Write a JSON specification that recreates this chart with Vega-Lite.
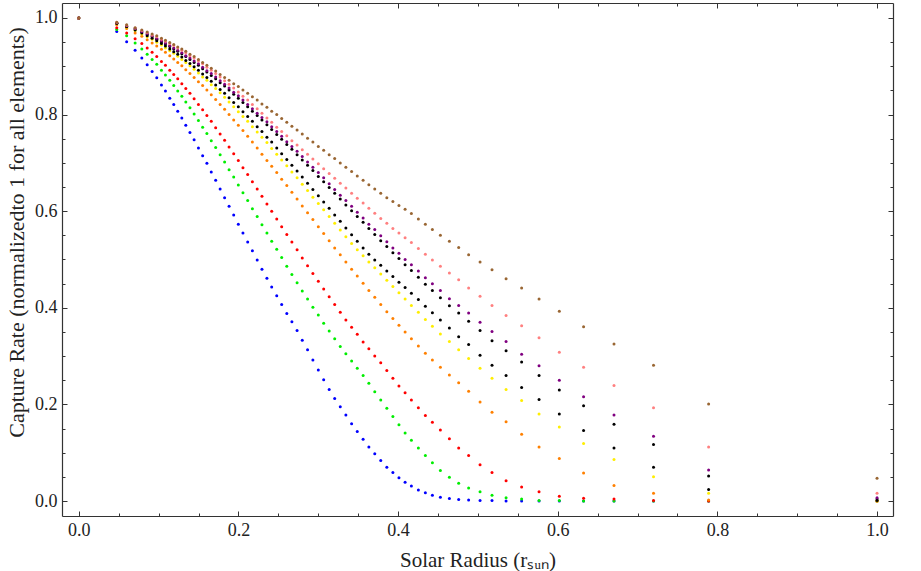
{
"$schema":"https://vega.github.io/schema/vega-lite/v6.json",
"width":831,"height":513,"autosize":"none",
"padding":{"left":62,"top":3,"right":28,"bottom":55},
"background":"white",
"config":{"view":{"stroke":null},"font":"Liberation Serif"},
"datasets":{
"pts":[
{"r":0,"s":"Blue","v":1},{"r":0.0476,"s":"Blue","v":0.972},{"r":0.06,"s":"Blue","v":0.951},{"r":0.0706,"s":"Blue","v":0.933},{"r":0.079,"s":"Blue","v":0.917},{"r":0.0857,"s":"Blue","v":0.903},{"r":0.0919,"s":"Blue","v":0.889},{"r":0.0977,"s":"Blue","v":0.876},{"r":0.1036,"s":"Blue","v":0.861},{"r":0.1086,"s":"Blue","v":0.849},{"r":0.114,"s":"Blue","v":0.834},{"r":0.119,"s":"Blue","v":0.821},{"r":0.124,"s":"Blue","v":0.807},{"r":0.1291,"s":"Blue","v":0.793},{"r":0.1341,"s":"Blue","v":0.778},{"r":0.1393,"s":"Blue","v":0.763},{"r":0.1445,"s":"Blue","v":0.748},{"r":0.1499,"s":"Blue","v":0.731},{"r":0.1552,"s":"Blue","v":0.715},{"r":0.1605,"s":"Blue","v":0.699},{"r":0.166,"s":"Blue","v":0.681},{"r":0.1715,"s":"Blue","v":0.664},{"r":0.1771,"s":"Blue","v":0.646},{"r":0.1827,"s":"Blue","v":0.628},{"r":0.1883,"s":"Blue","v":0.61},{"r":0.1941,"s":"Blue","v":0.592},{"r":0.1999,"s":"Blue","v":0.573},{"r":0.2057,"s":"Blue","v":0.555},{"r":0.2116,"s":"Blue","v":0.536},{"r":0.2175,"s":"Blue","v":0.518},{"r":0.2235,"s":"Blue","v":0.499},{"r":0.2295,"s":"Blue","v":0.48},{"r":0.2357,"s":"Blue","v":0.461},{"r":0.2417,"s":"Blue","v":0.443},{"r":0.248,"s":"Blue","v":0.425},{"r":0.2542,"s":"Blue","v":0.407},{"r":0.2606,"s":"Blue","v":0.388},{"r":0.267,"s":"Blue","v":0.371},{"r":0.2735,"s":"Blue","v":0.353},{"r":0.28,"s":"Blue","v":0.333},{"r":0.2866,"s":"Blue","v":0.313},{"r":0.2933,"s":"Blue","v":0.292},{"r":0.3001,"s":"Blue","v":0.271},{"r":0.3068,"s":"Blue","v":0.251},{"r":0.3137,"s":"Blue","v":0.231},{"r":0.3206,"s":"Blue","v":0.212},{"r":0.3276,"s":"Blue","v":0.195},{"r":0.3346,"s":"Blue","v":0.178},{"r":0.3418,"s":"Blue","v":0.16},{"r":0.3489,"s":"Blue","v":0.144},{"r":0.3562,"s":"Blue","v":0.128},{"r":0.3634,"s":"Blue","v":0.112},{"r":0.3708,"s":"Blue","v":0.098},{"r":0.3783,"s":"Blue","v":0.084},{"r":0.3859,"s":"Blue","v":0.07},{"r":0.3935,"s":"Blue","v":0.059},{"r":0.4011,"s":"Blue","v":0.048},{"r":0.4088,"s":"Blue","v":0.039},{"r":0.4167,"s":"Blue","v":0.031},{"r":0.4254,"s":"Blue","v":0.023},{"r":0.4342,"s":"Blue","v":0.017},{"r":0.443,"s":"Blue","v":0.012},{"r":0.453,"s":"Blue","v":0.008},{"r":0.4643,"s":"Blue","v":0.005},{"r":0.4759,"s":"Blue","v":0.003},{"r":0.4884,"s":"Blue","v":0.002},{"r":0.5027,"s":"Blue","v":0.001},{"r":0.5177,"s":"Blue","v":0.001},{"r":0.5353,"s":"Blue","v":0},{"r":0.5548,"s":"Blue","v":0},{"r":0.5766,"s":"Blue","v":0},{"r":0.602,"s":"Blue","v":0},{"r":0.6324,"s":"Blue","v":0},{"r":0.6705,"s":"Blue","v":0},{"r":0.72,"s":"Blue","v":0},{"r":0.789,"s":"Blue","v":0},{"r":1,"s":"Blue","v":0},
{"r":0,"s":"Green","v":1},{"r":0.0476,"s":"Green","v":0.976},{"r":0.06,"s":"Green","v":0.963},{"r":0.0706,"s":"Green","v":0.948},{"r":0.079,"s":"Green","v":0.936},{"r":0.0857,"s":"Green","v":0.925},{"r":0.0919,"s":"Green","v":0.914},{"r":0.0977,"s":"Green","v":0.904},{"r":0.1036,"s":"Green","v":0.892},{"r":0.1086,"s":"Green","v":0.882},{"r":0.114,"s":"Green","v":0.871},{"r":0.119,"s":"Green","v":0.86},{"r":0.124,"s":"Green","v":0.849},{"r":0.1291,"s":"Green","v":0.838},{"r":0.1341,"s":"Green","v":0.826},{"r":0.1393,"s":"Green","v":0.814},{"r":0.1445,"s":"Green","v":0.801},{"r":0.1499,"s":"Green","v":0.788},{"r":0.1552,"s":"Green","v":0.774},{"r":0.1605,"s":"Green","v":0.761},{"r":0.166,"s":"Green","v":0.746},{"r":0.1715,"s":"Green","v":0.732},{"r":0.1771,"s":"Green","v":0.717},{"r":0.1827,"s":"Green","v":0.702},{"r":0.1883,"s":"Green","v":0.686},{"r":0.1941,"s":"Green","v":0.671},{"r":0.1999,"s":"Green","v":0.654},{"r":0.2057,"s":"Green","v":0.638},{"r":0.2116,"s":"Green","v":0.622},{"r":0.2175,"s":"Green","v":0.605},{"r":0.2235,"s":"Green","v":0.589},{"r":0.2295,"s":"Green","v":0.572},{"r":0.2357,"s":"Green","v":0.555},{"r":0.2417,"s":"Green","v":0.538},{"r":0.248,"s":"Green","v":0.521},{"r":0.2542,"s":"Green","v":0.504},{"r":0.2606,"s":"Green","v":0.486},{"r":0.267,"s":"Green","v":0.469},{"r":0.2735,"s":"Green","v":0.452},{"r":0.28,"s":"Green","v":0.435},{"r":0.2866,"s":"Green","v":0.418},{"r":0.2933,"s":"Green","v":0.401},{"r":0.3001,"s":"Green","v":0.385},{"r":0.3068,"s":"Green","v":0.368},{"r":0.3137,"s":"Green","v":0.352},{"r":0.3206,"s":"Green","v":0.336},{"r":0.3276,"s":"Green","v":0.32},{"r":0.3346,"s":"Green","v":0.305},{"r":0.3418,"s":"Green","v":0.29},{"r":0.3489,"s":"Green","v":0.275},{"r":0.3562,"s":"Green","v":0.26},{"r":0.3634,"s":"Green","v":0.244},{"r":0.3708,"s":"Green","v":0.226},{"r":0.3783,"s":"Green","v":0.209},{"r":0.3859,"s":"Green","v":0.192},{"r":0.3935,"s":"Green","v":0.175},{"r":0.4011,"s":"Green","v":0.158},{"r":0.4088,"s":"Green","v":0.141},{"r":0.4167,"s":"Green","v":0.126},{"r":0.4254,"s":"Green","v":0.11},{"r":0.4342,"s":"Green","v":0.094},{"r":0.443,"s":"Green","v":0.079},{"r":0.453,"s":"Green","v":0.063},{"r":0.4643,"s":"Green","v":0.049},{"r":0.4759,"s":"Green","v":0.037},{"r":0.4884,"s":"Green","v":0.027},{"r":0.5027,"s":"Green","v":0.019},{"r":0.5177,"s":"Green","v":0.012},{"r":0.5353,"s":"Green","v":0.007},{"r":0.5548,"s":"Green","v":0.004},{"r":0.5766,"s":"Green","v":0.001},{"r":0.602,"s":"Green","v":0.001},{"r":0.6324,"s":"Green","v":0},{"r":0.6705,"s":"Green","v":0},{"r":0.72,"s":"Green","v":0},{"r":0.789,"s":"Green","v":0},{"r":1,"s":"Green","v":0},
{"r":0,"s":"Red","v":1},{"r":0.0476,"s":"Red","v":0.98},{"r":0.06,"s":"Red","v":0.969},{"r":0.0706,"s":"Red","v":0.957},{"r":0.079,"s":"Red","v":0.947},{"r":0.0857,"s":"Red","v":0.938},{"r":0.0919,"s":"Red","v":0.929},{"r":0.0977,"s":"Red","v":0.92},{"r":0.1036,"s":"Red","v":0.91},{"r":0.1086,"s":"Red","v":0.902},{"r":0.114,"s":"Red","v":0.892},{"r":0.119,"s":"Red","v":0.883},{"r":0.124,"s":"Red","v":0.874},{"r":0.1291,"s":"Red","v":0.864},{"r":0.1341,"s":"Red","v":0.854},{"r":0.1393,"s":"Red","v":0.844},{"r":0.1445,"s":"Red","v":0.833},{"r":0.1499,"s":"Red","v":0.821},{"r":0.1552,"s":"Red","v":0.81},{"r":0.1605,"s":"Red","v":0.798},{"r":0.166,"s":"Red","v":0.786},{"r":0.1715,"s":"Red","v":0.773},{"r":0.1771,"s":"Red","v":0.76},{"r":0.1827,"s":"Red","v":0.747},{"r":0.1883,"s":"Red","v":0.733},{"r":0.1941,"s":"Red","v":0.719},{"r":0.1999,"s":"Red","v":0.705},{"r":0.2057,"s":"Red","v":0.69},{"r":0.2116,"s":"Red","v":0.676},{"r":0.2175,"s":"Red","v":0.661},{"r":0.2235,"s":"Red","v":0.646},{"r":0.2295,"s":"Red","v":0.631},{"r":0.2357,"s":"Red","v":0.615},{"r":0.2417,"s":"Red","v":0.6},{"r":0.248,"s":"Red","v":0.584},{"r":0.2542,"s":"Red","v":0.568},{"r":0.2606,"s":"Red","v":0.552},{"r":0.267,"s":"Red","v":0.536},{"r":0.2735,"s":"Red","v":0.52},{"r":0.28,"s":"Red","v":0.503},{"r":0.2866,"s":"Red","v":0.487},{"r":0.2933,"s":"Red","v":0.471},{"r":0.3001,"s":"Red","v":0.455},{"r":0.3068,"s":"Red","v":0.439},{"r":0.3137,"s":"Red","v":0.423},{"r":0.3206,"s":"Red","v":0.407},{"r":0.3276,"s":"Red","v":0.391},{"r":0.3346,"s":"Red","v":0.375},{"r":0.3418,"s":"Red","v":0.36},{"r":0.3489,"s":"Red","v":0.345},{"r":0.3562,"s":"Red","v":0.329},{"r":0.3634,"s":"Red","v":0.315},{"r":0.3708,"s":"Red","v":0.3},{"r":0.3783,"s":"Red","v":0.286},{"r":0.3859,"s":"Red","v":0.27},{"r":0.3935,"s":"Red","v":0.254},{"r":0.4011,"s":"Red","v":0.238},{"r":0.4088,"s":"Red","v":0.224},{"r":0.4167,"s":"Red","v":0.209},{"r":0.4254,"s":"Red","v":0.193},{"r":0.4342,"s":"Red","v":0.177},{"r":0.443,"s":"Red","v":0.163},{"r":0.453,"s":"Red","v":0.147},{"r":0.4643,"s":"Red","v":0.129},{"r":0.4759,"s":"Red","v":0.11},{"r":0.4884,"s":"Red","v":0.094},{"r":0.5027,"s":"Red","v":0.075},{"r":0.5177,"s":"Red","v":0.059},{"r":0.5353,"s":"Red","v":0.042},{"r":0.5548,"s":"Red","v":0.029},{"r":0.5766,"s":"Red","v":0.019},{"r":0.602,"s":"Red","v":0.01},{"r":0.6324,"s":"Red","v":0.006},{"r":0.6705,"s":"Red","v":0.004},{"r":0.72,"s":"Red","v":0.001},{"r":0.789,"s":"Red","v":0},{"r":1,"s":"Red","v":0},
{"r":0,"s":"Orange","v":1},{"r":0.0476,"s":"Orange","v":0.986},{"r":0.06,"s":"Orange","v":0.978},{"r":0.0706,"s":"Orange","v":0.969},{"r":0.079,"s":"Orange","v":0.962},{"r":0.0857,"s":"Orange","v":0.955},{"r":0.0919,"s":"Orange","v":0.948},{"r":0.0977,"s":"Orange","v":0.942},{"r":0.1036,"s":"Orange","v":0.935},{"r":0.1086,"s":"Orange","v":0.929},{"r":0.114,"s":"Orange","v":0.922},{"r":0.119,"s":"Orange","v":0.915},{"r":0.124,"s":"Orange","v":0.908},{"r":0.1291,"s":"Orange","v":0.901},{"r":0.1341,"s":"Orange","v":0.893},{"r":0.1393,"s":"Orange","v":0.885},{"r":0.1445,"s":"Orange","v":0.877},{"r":0.1499,"s":"Orange","v":0.868},{"r":0.1552,"s":"Orange","v":0.86},{"r":0.1605,"s":"Orange","v":0.851},{"r":0.166,"s":"Orange","v":0.841},{"r":0.1715,"s":"Orange","v":0.831},{"r":0.1771,"s":"Orange","v":0.821},{"r":0.1827,"s":"Orange","v":0.811},{"r":0.1883,"s":"Orange","v":0.8},{"r":0.1941,"s":"Orange","v":0.789},{"r":0.1999,"s":"Orange","v":0.778},{"r":0.2057,"s":"Orange","v":0.767},{"r":0.2116,"s":"Orange","v":0.755},{"r":0.2175,"s":"Orange","v":0.743},{"r":0.2235,"s":"Orange","v":0.731},{"r":0.2295,"s":"Orange","v":0.718},{"r":0.2357,"s":"Orange","v":0.705},{"r":0.2417,"s":"Orange","v":0.693},{"r":0.248,"s":"Orange","v":0.68},{"r":0.2542,"s":"Orange","v":0.666},{"r":0.2606,"s":"Orange","v":0.653},{"r":0.267,"s":"Orange","v":0.639},{"r":0.2735,"s":"Orange","v":0.625},{"r":0.28,"s":"Orange","v":0.611},{"r":0.2866,"s":"Orange","v":0.597},{"r":0.2933,"s":"Orange","v":0.583},{"r":0.3001,"s":"Orange","v":0.568},{"r":0.3068,"s":"Orange","v":0.554},{"r":0.3137,"s":"Orange","v":0.539},{"r":0.3206,"s":"Orange","v":0.524},{"r":0.3276,"s":"Orange","v":0.51},{"r":0.3346,"s":"Orange","v":0.495},{"r":0.3418,"s":"Orange","v":0.48},{"r":0.3489,"s":"Orange","v":0.466},{"r":0.3562,"s":"Orange","v":0.451},{"r":0.3634,"s":"Orange","v":0.436},{"r":0.3708,"s":"Orange","v":0.422},{"r":0.3783,"s":"Orange","v":0.407},{"r":0.3859,"s":"Orange","v":0.392},{"r":0.3935,"s":"Orange","v":0.378},{"r":0.4011,"s":"Orange","v":0.364},{"r":0.4088,"s":"Orange","v":0.35},{"r":0.4167,"s":"Orange","v":0.336},{"r":0.4254,"s":"Orange","v":0.321},{"r":0.4342,"s":"Orange","v":0.306},{"r":0.443,"s":"Orange","v":0.292},{"r":0.453,"s":"Orange","v":0.277},{"r":0.4643,"s":"Orange","v":0.261},{"r":0.4759,"s":"Orange","v":0.245},{"r":0.4884,"s":"Orange","v":0.227},{"r":0.5027,"s":"Orange","v":0.205},{"r":0.5177,"s":"Orange","v":0.184},{"r":0.5353,"s":"Orange","v":0.164},{"r":0.5548,"s":"Orange","v":0.138},{"r":0.5766,"s":"Orange","v":0.112},{"r":0.602,"s":"Orange","v":0.088},{"r":0.6324,"s":"Orange","v":0.058},{"r":0.6705,"s":"Orange","v":0.032},{"r":0.72,"s":"Orange","v":0.016},{"r":0.789,"s":"Orange","v":0.002},{"r":1,"s":"Orange","v":0},
{"r":0,"s":"Yellow","v":1},{"r":0.0476,"s":"Yellow","v":0.988},{"r":0.06,"s":"Yellow","v":0.981},{"r":0.0706,"s":"Yellow","v":0.974},{"r":0.079,"s":"Yellow","v":0.967},{"r":0.0857,"s":"Yellow","v":0.961},{"r":0.0919,"s":"Yellow","v":0.956},{"r":0.0977,"s":"Yellow","v":0.95},{"r":0.1036,"s":"Yellow","v":0.944},{"r":0.1086,"s":"Yellow","v":0.938},{"r":0.114,"s":"Yellow","v":0.932},{"r":0.119,"s":"Yellow","v":0.927},{"r":0.124,"s":"Yellow","v":0.921},{"r":0.1291,"s":"Yellow","v":0.914},{"r":0.1341,"s":"Yellow","v":0.908},{"r":0.1393,"s":"Yellow","v":0.901},{"r":0.1445,"s":"Yellow","v":0.894},{"r":0.1499,"s":"Yellow","v":0.886},{"r":0.1552,"s":"Yellow","v":0.878},{"r":0.1605,"s":"Yellow","v":0.871},{"r":0.166,"s":"Yellow","v":0.862},{"r":0.1715,"s":"Yellow","v":0.854},{"r":0.1771,"s":"Yellow","v":0.845},{"r":0.1827,"s":"Yellow","v":0.836},{"r":0.1883,"s":"Yellow","v":0.826},{"r":0.1941,"s":"Yellow","v":0.816},{"r":0.1999,"s":"Yellow","v":0.806},{"r":0.2057,"s":"Yellow","v":0.796},{"r":0.2116,"s":"Yellow","v":0.786},{"r":0.2175,"s":"Yellow","v":0.775},{"r":0.2235,"s":"Yellow","v":0.764},{"r":0.2295,"s":"Yellow","v":0.753},{"r":0.2357,"s":"Yellow","v":0.742},{"r":0.2417,"s":"Yellow","v":0.73},{"r":0.248,"s":"Yellow","v":0.718},{"r":0.2542,"s":"Yellow","v":0.706},{"r":0.2606,"s":"Yellow","v":0.694},{"r":0.267,"s":"Yellow","v":0.681},{"r":0.2735,"s":"Yellow","v":0.669},{"r":0.28,"s":"Yellow","v":0.656},{"r":0.2866,"s":"Yellow","v":0.643},{"r":0.2933,"s":"Yellow","v":0.629},{"r":0.3001,"s":"Yellow","v":0.616},{"r":0.3068,"s":"Yellow","v":0.603},{"r":0.3137,"s":"Yellow","v":0.589},{"r":0.3206,"s":"Yellow","v":0.575},{"r":0.3276,"s":"Yellow","v":0.561},{"r":0.3346,"s":"Yellow","v":0.547},{"r":0.3418,"s":"Yellow","v":0.533},{"r":0.3489,"s":"Yellow","v":0.52},{"r":0.3562,"s":"Yellow","v":0.508},{"r":0.3634,"s":"Yellow","v":0.495},{"r":0.3708,"s":"Yellow","v":0.483},{"r":0.3783,"s":"Yellow","v":0.47},{"r":0.3859,"s":"Yellow","v":0.457},{"r":0.3935,"s":"Yellow","v":0.444},{"r":0.4011,"s":"Yellow","v":0.431},{"r":0.4088,"s":"Yellow","v":0.418},{"r":0.4167,"s":"Yellow","v":0.405},{"r":0.4254,"s":"Yellow","v":0.391},{"r":0.4342,"s":"Yellow","v":0.376},{"r":0.443,"s":"Yellow","v":0.362},{"r":0.453,"s":"Yellow","v":0.346},{"r":0.4643,"s":"Yellow","v":0.33},{"r":0.4759,"s":"Yellow","v":0.313},{"r":0.4884,"s":"Yellow","v":0.295},{"r":0.5027,"s":"Yellow","v":0.275},{"r":0.5177,"s":"Yellow","v":0.254},{"r":0.5353,"s":"Yellow","v":0.231},{"r":0.5548,"s":"Yellow","v":0.208},{"r":0.5766,"s":"Yellow","v":0.18},{"r":0.602,"s":"Yellow","v":0.153},{"r":0.6324,"s":"Yellow","v":0.119},{"r":0.6705,"s":"Yellow","v":0.086},{"r":0.72,"s":"Yellow","v":0.05},{"r":0.789,"s":"Yellow","v":0.016},{"r":1,"s":"Yellow","v":0},
{"r":0,"s":"Black B","v":1},{"r":0.0476,"s":"Black B","v":0.989},{"r":0.06,"s":"Black B","v":0.982},{"r":0.0706,"s":"Black B","v":0.975},{"r":0.079,"s":"Black B","v":0.969},{"r":0.0857,"s":"Black B","v":0.963},{"r":0.0919,"s":"Black B","v":0.958},{"r":0.0977,"s":"Black B","v":0.953},{"r":0.1036,"s":"Black B","v":0.947},{"r":0.1086,"s":"Black B","v":0.942},{"r":0.114,"s":"Black B","v":0.936},{"r":0.119,"s":"Black B","v":0.93},{"r":0.124,"s":"Black B","v":0.925},{"r":0.1291,"s":"Black B","v":0.919},{"r":0.1341,"s":"Black B","v":0.912},{"r":0.1393,"s":"Black B","v":0.906},{"r":0.1445,"s":"Black B","v":0.899},{"r":0.1499,"s":"Black B","v":0.892},{"r":0.1552,"s":"Black B","v":0.884},{"r":0.1605,"s":"Black B","v":0.877},{"r":0.166,"s":"Black B","v":0.869},{"r":0.1715,"s":"Black B","v":0.861},{"r":0.1771,"s":"Black B","v":0.852},{"r":0.1827,"s":"Black B","v":0.844},{"r":0.1883,"s":"Black B","v":0.835},{"r":0.1941,"s":"Black B","v":0.825},{"r":0.1999,"s":"Black B","v":0.816},{"r":0.2057,"s":"Black B","v":0.806},{"r":0.2116,"s":"Black B","v":0.796},{"r":0.2175,"s":"Black B","v":0.786},{"r":0.2235,"s":"Black B","v":0.775},{"r":0.2295,"s":"Black B","v":0.765},{"r":0.2357,"s":"Black B","v":0.753},{"r":0.2417,"s":"Black B","v":0.743},{"r":0.248,"s":"Black B","v":0.731},{"r":0.2542,"s":"Black B","v":0.719},{"r":0.2606,"s":"Black B","v":0.707},{"r":0.267,"s":"Black B","v":0.695},{"r":0.2735,"s":"Black B","v":0.683},{"r":0.28,"s":"Black B","v":0.671},{"r":0.2866,"s":"Black B","v":0.658},{"r":0.2933,"s":"Black B","v":0.645},{"r":0.3001,"s":"Black B","v":0.632},{"r":0.3068,"s":"Black B","v":0.619},{"r":0.3137,"s":"Black B","v":0.606},{"r":0.3206,"s":"Black B","v":0.592},{"r":0.3276,"s":"Black B","v":0.579},{"r":0.3346,"s":"Black B","v":0.565},{"r":0.3418,"s":"Black B","v":0.551},{"r":0.3489,"s":"Black B","v":0.538},{"r":0.3562,"s":"Black B","v":0.524},{"r":0.3634,"s":"Black B","v":0.511},{"r":0.3708,"s":"Black B","v":0.499},{"r":0.3783,"s":"Black B","v":0.488},{"r":0.3859,"s":"Black B","v":0.476},{"r":0.3935,"s":"Black B","v":0.465},{"r":0.4011,"s":"Black B","v":0.453},{"r":0.4088,"s":"Black B","v":0.442},{"r":0.4167,"s":"Black B","v":0.43},{"r":0.4254,"s":"Black B","v":0.417},{"r":0.4342,"s":"Black B","v":0.403},{"r":0.443,"s":"Black B","v":0.39},{"r":0.453,"s":"Black B","v":0.375},{"r":0.4643,"s":"Black B","v":0.358},{"r":0.4759,"s":"Black B","v":0.34},{"r":0.4884,"s":"Black B","v":0.324},{"r":0.5027,"s":"Black B","v":0.302},{"r":0.5177,"s":"Black B","v":0.281},{"r":0.5353,"s":"Black B","v":0.26},{"r":0.5548,"s":"Black B","v":0.235},{"r":0.5766,"s":"Black B","v":0.21},{"r":0.602,"s":"Black B","v":0.18},{"r":0.6324,"s":"Black B","v":0.146},{"r":0.6705,"s":"Black B","v":0.11},{"r":0.72,"s":"Black B","v":0.07},{"r":0.789,"s":"Black B","v":0.024},{"r":1,"s":"Black B","v":0.001},
{"r":0,"s":"Black A","v":1},{"r":0.0476,"s":"Black A","v":0.989},{"r":0.06,"s":"Black A","v":0.983},{"r":0.0706,"s":"Black A","v":0.977},{"r":0.079,"s":"Black A","v":0.971},{"r":0.0857,"s":"Black A","v":0.966},{"r":0.0919,"s":"Black A","v":0.961},{"r":0.0977,"s":"Black A","v":0.956},{"r":0.1036,"s":"Black A","v":0.951},{"r":0.1086,"s":"Black A","v":0.946},{"r":0.114,"s":"Black A","v":0.941},{"r":0.119,"s":"Black A","v":0.936},{"r":0.124,"s":"Black A","v":0.931},{"r":0.1291,"s":"Black A","v":0.926},{"r":0.1341,"s":"Black A","v":0.92},{"r":0.1393,"s":"Black A","v":0.914},{"r":0.1445,"s":"Black A","v":0.908},{"r":0.1499,"s":"Black A","v":0.902},{"r":0.1552,"s":"Black A","v":0.895},{"r":0.1605,"s":"Black A","v":0.888},{"r":0.166,"s":"Black A","v":0.881},{"r":0.1715,"s":"Black A","v":0.874},{"r":0.1771,"s":"Black A","v":0.866},{"r":0.1827,"s":"Black A","v":0.859},{"r":0.1883,"s":"Black A","v":0.851},{"r":0.1941,"s":"Black A","v":0.842},{"r":0.1999,"s":"Black A","v":0.834},{"r":0.2057,"s":"Black A","v":0.825},{"r":0.2116,"s":"Black A","v":0.816},{"r":0.2175,"s":"Black A","v":0.807},{"r":0.2235,"s":"Black A","v":0.798},{"r":0.2295,"s":"Black A","v":0.789},{"r":0.2357,"s":"Black A","v":0.779},{"r":0.2417,"s":"Black A","v":0.769},{"r":0.248,"s":"Black A","v":0.759},{"r":0.2542,"s":"Black A","v":0.749},{"r":0.2606,"s":"Black A","v":0.738},{"r":0.267,"s":"Black A","v":0.728},{"r":0.2735,"s":"Black A","v":0.717},{"r":0.28,"s":"Black A","v":0.706},{"r":0.2866,"s":"Black A","v":0.695},{"r":0.2933,"s":"Black A","v":0.684},{"r":0.3001,"s":"Black A","v":0.672},{"r":0.3068,"s":"Black A","v":0.661},{"r":0.3137,"s":"Black A","v":0.649},{"r":0.3206,"s":"Black A","v":0.637},{"r":0.3276,"s":"Black A","v":0.625},{"r":0.3346,"s":"Black A","v":0.613},{"r":0.3418,"s":"Black A","v":0.601},{"r":0.3489,"s":"Black A","v":0.589},{"r":0.3562,"s":"Black A","v":0.577},{"r":0.3634,"s":"Black A","v":0.564},{"r":0.3708,"s":"Black A","v":0.552},{"r":0.3783,"s":"Black A","v":0.539},{"r":0.3859,"s":"Black A","v":0.527},{"r":0.3935,"s":"Black A","v":0.514},{"r":0.4011,"s":"Black A","v":0.502},{"r":0.4088,"s":"Black A","v":0.489},{"r":0.4167,"s":"Black A","v":0.477},{"r":0.4254,"s":"Black A","v":0.463},{"r":0.4342,"s":"Black A","v":0.449},{"r":0.443,"s":"Black A","v":0.436},{"r":0.453,"s":"Black A","v":0.421},{"r":0.4643,"s":"Black A","v":0.404},{"r":0.4759,"s":"Black A","v":0.389},{"r":0.4884,"s":"Black A","v":0.372},{"r":0.5027,"s":"Black A","v":0.353},{"r":0.5177,"s":"Black A","v":0.332},{"r":0.5353,"s":"Black A","v":0.311},{"r":0.5548,"s":"Black A","v":0.288},{"r":0.5766,"s":"Black A","v":0.26},{"r":0.602,"s":"Black A","v":0.23},{"r":0.6324,"s":"Black A","v":0.197},{"r":0.6705,"s":"Black A","v":0.159},{"r":0.72,"s":"Black A","v":0.117},{"r":0.789,"s":"Black A","v":0.052},{"r":1,"s":"Black A","v":0.004},
{"r":0,"s":"Purple","v":1},{"r":0.0476,"s":"Purple","v":0.99},{"r":0.06,"s":"Purple","v":0.984},{"r":0.0706,"s":"Purple","v":0.978},{"r":0.079,"s":"Purple","v":0.972},{"r":0.0857,"s":"Purple","v":0.968},{"r":0.0919,"s":"Purple","v":0.963},{"r":0.0977,"s":"Purple","v":0.958},{"r":0.1036,"s":"Purple","v":0.953},{"r":0.1086,"s":"Purple","v":0.948},{"r":0.114,"s":"Purple","v":0.943},{"r":0.119,"s":"Purple","v":0.938},{"r":0.124,"s":"Purple","v":0.933},{"r":0.1291,"s":"Purple","v":0.928},{"r":0.1341,"s":"Purple","v":0.922},{"r":0.1393,"s":"Purple","v":0.917},{"r":0.1445,"s":"Purple","v":0.911},{"r":0.1499,"s":"Purple","v":0.905},{"r":0.1552,"s":"Purple","v":0.898},{"r":0.1605,"s":"Purple","v":0.891},{"r":0.166,"s":"Purple","v":0.885},{"r":0.1715,"s":"Purple","v":0.878},{"r":0.1771,"s":"Purple","v":0.87},{"r":0.1827,"s":"Purple","v":0.863},{"r":0.1883,"s":"Purple","v":0.855},{"r":0.1941,"s":"Purple","v":0.846},{"r":0.1999,"s":"Purple","v":0.839},{"r":0.2057,"s":"Purple","v":0.83},{"r":0.2116,"s":"Purple","v":0.821},{"r":0.2175,"s":"Purple","v":0.812},{"r":0.2235,"s":"Purple","v":0.803},{"r":0.2295,"s":"Purple","v":0.794},{"r":0.2357,"s":"Purple","v":0.785},{"r":0.2417,"s":"Purple","v":0.775},{"r":0.248,"s":"Purple","v":0.765},{"r":0.2542,"s":"Purple","v":0.755},{"r":0.2606,"s":"Purple","v":0.744},{"r":0.267,"s":"Purple","v":0.734},{"r":0.2735,"s":"Purple","v":0.724},{"r":0.28,"s":"Purple","v":0.713},{"r":0.2866,"s":"Purple","v":0.702},{"r":0.2933,"s":"Purple","v":0.691},{"r":0.3001,"s":"Purple","v":0.68},{"r":0.3068,"s":"Purple","v":0.669},{"r":0.3137,"s":"Purple","v":0.657},{"r":0.3206,"s":"Purple","v":0.645},{"r":0.3276,"s":"Purple","v":0.633},{"r":0.3346,"s":"Purple","v":0.622},{"r":0.3418,"s":"Purple","v":0.61},{"r":0.3489,"s":"Purple","v":0.598},{"r":0.3562,"s":"Purple","v":0.586},{"r":0.3634,"s":"Purple","v":0.573},{"r":0.3708,"s":"Purple","v":0.562},{"r":0.3783,"s":"Purple","v":0.549},{"r":0.3859,"s":"Purple","v":0.537},{"r":0.3935,"s":"Purple","v":0.524},{"r":0.4011,"s":"Purple","v":0.513},{"r":0.4088,"s":"Purple","v":0.5},{"r":0.4167,"s":"Purple","v":0.489},{"r":0.4254,"s":"Purple","v":0.476},{"r":0.4342,"s":"Purple","v":0.462},{"r":0.443,"s":"Purple","v":0.45},{"r":0.453,"s":"Purple","v":0.436},{"r":0.4643,"s":"Purple","v":0.419},{"r":0.4759,"s":"Purple","v":0.405},{"r":0.4884,"s":"Purple","v":0.389},{"r":0.5027,"s":"Purple","v":0.37},{"r":0.5177,"s":"Purple","v":0.351},{"r":0.5353,"s":"Purple","v":0.33},{"r":0.5548,"s":"Purple","v":0.304},{"r":0.5766,"s":"Purple","v":0.28},{"r":0.602,"s":"Purple","v":0.25},{"r":0.6324,"s":"Purple","v":0.216},{"r":0.6705,"s":"Purple","v":0.178},{"r":0.72,"s":"Purple","v":0.134},{"r":0.789,"s":"Purple","v":0.064},{"r":1,"s":"Purple","v":0.007},
{"r":0,"s":"Pink","v":1},{"r":0.0476,"s":"Pink","v":0.991},{"r":0.06,"s":"Pink","v":0.985},{"r":0.0706,"s":"Pink","v":0.979},{"r":0.079,"s":"Pink","v":0.974},{"r":0.0857,"s":"Pink","v":0.97},{"r":0.0919,"s":"Pink","v":0.965},{"r":0.0977,"s":"Pink","v":0.961},{"r":0.1036,"s":"Pink","v":0.956},{"r":0.1086,"s":"Pink","v":0.952},{"r":0.114,"s":"Pink","v":0.947},{"r":0.119,"s":"Pink","v":0.943},{"r":0.124,"s":"Pink","v":0.938},{"r":0.1291,"s":"Pink","v":0.933},{"r":0.1341,"s":"Pink","v":0.928},{"r":0.1393,"s":"Pink","v":0.922},{"r":0.1445,"s":"Pink","v":0.917},{"r":0.1499,"s":"Pink","v":0.911},{"r":0.1552,"s":"Pink","v":0.905},{"r":0.1605,"s":"Pink","v":0.898},{"r":0.166,"s":"Pink","v":0.892},{"r":0.1715,"s":"Pink","v":0.885},{"r":0.1771,"s":"Pink","v":0.878},{"r":0.1827,"s":"Pink","v":0.87},{"r":0.1883,"s":"Pink","v":0.863},{"r":0.1941,"s":"Pink","v":0.855},{"r":0.1999,"s":"Pink","v":0.847},{"r":0.2057,"s":"Pink","v":0.838},{"r":0.2116,"s":"Pink","v":0.83},{"r":0.2175,"s":"Pink","v":0.821},{"r":0.2235,"s":"Pink","v":0.812},{"r":0.2295,"s":"Pink","v":0.803},{"r":0.2357,"s":"Pink","v":0.793},{"r":0.2417,"s":"Pink","v":0.784},{"r":0.248,"s":"Pink","v":0.774},{"r":0.2542,"s":"Pink","v":0.765},{"r":0.2606,"s":"Pink","v":0.756},{"r":0.267,"s":"Pink","v":0.746},{"r":0.2735,"s":"Pink","v":0.737},{"r":0.28,"s":"Pink","v":0.727},{"r":0.2866,"s":"Pink","v":0.718},{"r":0.2933,"s":"Pink","v":0.708},{"r":0.3001,"s":"Pink","v":0.698},{"r":0.3068,"s":"Pink","v":0.688},{"r":0.3137,"s":"Pink","v":0.678},{"r":0.3206,"s":"Pink","v":0.668},{"r":0.3276,"s":"Pink","v":0.658},{"r":0.3346,"s":"Pink","v":0.648},{"r":0.3418,"s":"Pink","v":0.637},{"r":0.3489,"s":"Pink","v":0.627},{"r":0.3562,"s":"Pink","v":0.617},{"r":0.3634,"s":"Pink","v":0.606},{"r":0.3708,"s":"Pink","v":0.596},{"r":0.3783,"s":"Pink","v":0.585},{"r":0.3859,"s":"Pink","v":0.575},{"r":0.3935,"s":"Pink","v":0.564},{"r":0.4011,"s":"Pink","v":0.555},{"r":0.4088,"s":"Pink","v":0.545},{"r":0.4167,"s":"Pink","v":0.535},{"r":0.4254,"s":"Pink","v":0.523},{"r":0.4342,"s":"Pink","v":0.511},{"r":0.443,"s":"Pink","v":0.499},{"r":0.453,"s":"Pink","v":0.486},{"r":0.4643,"s":"Pink","v":0.472},{"r":0.4759,"s":"Pink","v":0.458},{"r":0.4884,"s":"Pink","v":0.441},{"r":0.5027,"s":"Pink","v":0.424},{"r":0.5177,"s":"Pink","v":0.405},{"r":0.5353,"s":"Pink","v":0.384},{"r":0.5548,"s":"Pink","v":0.363},{"r":0.5766,"s":"Pink","v":0.338},{"r":0.602,"s":"Pink","v":0.308},{"r":0.6324,"s":"Pink","v":0.277},{"r":0.6705,"s":"Pink","v":0.239},{"r":0.72,"s":"Pink","v":0.193},{"r":0.789,"s":"Pink","v":0.112},{"r":1,"s":"Pink","v":0.016},
{"r":0,"s":"Brown","v":1},{"r":0.0476,"s":"Brown","v":0.991},{"r":0.06,"s":"Brown","v":0.986},{"r":0.0706,"s":"Brown","v":0.98},{"r":0.079,"s":"Brown","v":0.975},{"r":0.0857,"s":"Brown","v":0.971},{"r":0.0919,"s":"Brown","v":0.967},{"r":0.0977,"s":"Brown","v":0.963},{"r":0.1036,"s":"Brown","v":0.958},{"r":0.1086,"s":"Brown","v":0.954},{"r":0.114,"s":"Brown","v":0.949},{"r":0.119,"s":"Brown","v":0.945},{"r":0.124,"s":"Brown","v":0.94},{"r":0.1291,"s":"Brown","v":0.936},{"r":0.1341,"s":"Brown","v":0.931},{"r":0.1393,"s":"Brown","v":0.925},{"r":0.1445,"s":"Brown","v":0.92},{"r":0.1499,"s":"Brown","v":0.914},{"r":0.1552,"s":"Brown","v":0.908},{"r":0.1605,"s":"Brown","v":0.902},{"r":0.166,"s":"Brown","v":0.896},{"r":0.1715,"s":"Brown","v":0.89},{"r":0.1771,"s":"Brown","v":0.883},{"r":0.1827,"s":"Brown","v":0.877},{"r":0.1883,"s":"Brown","v":0.871},{"r":0.1941,"s":"Brown","v":0.864},{"r":0.1999,"s":"Brown","v":0.858},{"r":0.2057,"s":"Brown","v":0.851},{"r":0.2116,"s":"Brown","v":0.844},{"r":0.2175,"s":"Brown","v":0.837},{"r":0.2235,"s":"Brown","v":0.83},{"r":0.2295,"s":"Brown","v":0.822},{"r":0.2357,"s":"Brown","v":0.815},{"r":0.2417,"s":"Brown","v":0.807},{"r":0.248,"s":"Brown","v":0.8},{"r":0.2542,"s":"Brown","v":0.792},{"r":0.2606,"s":"Brown","v":0.784},{"r":0.267,"s":"Brown","v":0.776},{"r":0.2735,"s":"Brown","v":0.768},{"r":0.28,"s":"Brown","v":0.76},{"r":0.2866,"s":"Brown","v":0.751},{"r":0.2933,"s":"Brown","v":0.743},{"r":0.3001,"s":"Brown","v":0.734},{"r":0.3068,"s":"Brown","v":0.726},{"r":0.3137,"s":"Brown","v":0.717},{"r":0.3206,"s":"Brown","v":0.709},{"r":0.3276,"s":"Brown","v":0.7},{"r":0.3346,"s":"Brown","v":0.691},{"r":0.3418,"s":"Brown","v":0.682},{"r":0.3489,"s":"Brown","v":0.673},{"r":0.3562,"s":"Brown","v":0.664},{"r":0.3634,"s":"Brown","v":0.655},{"r":0.3708,"s":"Brown","v":0.646},{"r":0.3783,"s":"Brown","v":0.637},{"r":0.3859,"s":"Brown","v":0.628},{"r":0.3935,"s":"Brown","v":0.62},{"r":0.4011,"s":"Brown","v":0.612},{"r":0.4088,"s":"Brown","v":0.604},{"r":0.4167,"s":"Brown","v":0.595},{"r":0.4254,"s":"Brown","v":0.584},{"r":0.4342,"s":"Brown","v":0.573},{"r":0.443,"s":"Brown","v":0.562},{"r":0.453,"s":"Brown","v":0.55},{"r":0.4643,"s":"Brown","v":0.538},{"r":0.4759,"s":"Brown","v":0.525},{"r":0.4884,"s":"Brown","v":0.51},{"r":0.5027,"s":"Brown","v":0.495},{"r":0.5177,"s":"Brown","v":0.479},{"r":0.5353,"s":"Brown","v":0.46},{"r":0.5548,"s":"Brown","v":0.441},{"r":0.5766,"s":"Brown","v":0.418},{"r":0.602,"s":"Brown","v":0.393},{"r":0.6324,"s":"Brown","v":0.361},{"r":0.6705,"s":"Brown","v":0.325},{"r":0.72,"s":"Brown","v":0.281},{"r":0.789,"s":"Brown","v":0.201},{"r":1,"s":"Brown","v":0.047}
],
"frame":[{"r":0,"v":0}]
},
"layer":[
{
"data":{"name":"pts"},
"mark":{"type":"circle","size":9,"opacity":1},
"encoding":{
"x":{"field":"r","type":"quantitative","scale":{"domain":[-0.021,1.02],"nice":false,"zero":false},
"axis":{"orient":"bottom","values":[0,0.05,0.1,0.15,0.2,0.25,0.3,0.35,0.4,0.45,0.5,0.55,0.6,0.65,0.7,0.75,0.8,0.85,0.9,0.95,1],
"labelExpr":"abs(datum.value*5-round(datum.value*5))<0.001 ? format(datum.value,'.1f') : ''",
"tickSize":{"condition":{"test":"abs(datum.value*5-round(datum.value*5))<0.001","value":-5},"value":-3},
"grid":false,"labelOverlap":false,"labelFlush":false,"labelPadding":10,
"domainColor":"#333333","tickColor":"#333333","domainWidth":1.2,"tickWidth":1,
"labelFont":"Liberation Serif","labelFontSize":18,"labelColor":"#222222",
"title":"Solar Radius (rₛᵤₙ)","titleFont":"Liberation Serif","titleFontSize":21,"titleFontWeight":"normal","titleColor":"#222222","titlePadding":8}},
"y":{"field":"v","type":"quantitative","scale":{"domain":[-0.031,1.031],"nice":false,"zero":false},
"axis":{"orient":"left","values":[0,0.05,0.1,0.15,0.2,0.25,0.3,0.35,0.4,0.45,0.5,0.55,0.6,0.65,0.7,0.75,0.8,0.85,0.9,0.95,1],
"labelExpr":"abs(datum.value*5-round(datum.value*5))<0.001 ? format(datum.value,'.1f') : ''",
"tickSize":{"condition":{"test":"abs(datum.value*5-round(datum.value*5))<0.001","value":-5},"value":-3},
"grid":false,"labelOverlap":false,"labelFlush":false,"labelPadding":10,
"domainColor":"#333333","tickColor":"#333333","domainWidth":1.2,"tickWidth":1,
"labelFont":"Liberation Serif","labelFontSize":18,"labelColor":"#222222",
"title":"Capture Rate (normalizedto 1 for all elements)","titleFont":"Liberation Serif","titleFontSize":22,"titleFontWeight":"normal","titleColor":"#222222","titlePadding":6,"titleY":229}},
"color":{"field":"s","type":"nominal","legend":null,
"scale":{"domain":["Blue","Green","Red","Orange","Yellow","Black B","Black A","Purple","Pink","Brown"],
"range":["#0000ff","#00ee00","#ff0000","#ff8000","#ffee00","#000000","#000000","#800080","#ff8080","#996633"]}}
}
},
{
"data":{"name":"frame"},
"mark":{"type":"point","opacity":0},
"encoding":{
"x":{"field":"r","type":"quantitative","scale":{"domain":[-0.021,1.02],"nice":false,"zero":false},
"axis":{"orient":"top","values":[0,0.05,0.1,0.15,0.2,0.25,0.3,0.35,0.4,0.45,0.5,0.55,0.6,0.65,0.7,0.75,0.8,0.85,0.9,0.95,1],"labels":false,"title":null,"grid":false,
"tickSize":{"condition":{"test":"abs(datum.value*5-round(datum.value*5))<0.001","value":-5},"value":-3},
"domainColor":"#333333","tickColor":"#333333","domainWidth":1.2,"tickWidth":1}},
"y":{"field":"v","type":"quantitative","scale":{"domain":[-0.031,1.031],"nice":false,"zero":false},
"axis":{"orient":"right","values":[0,0.05,0.1,0.15,0.2,0.25,0.3,0.35,0.4,0.45,0.5,0.55,0.6,0.65,0.7,0.75,0.8,0.85,0.9,0.95,1],"labels":false,"title":null,"grid":false,
"tickSize":{"condition":{"test":"abs(datum.value*5-round(datum.value*5))<0.001","value":-5},"value":-3},
"domainColor":"#333333","tickColor":"#333333","domainWidth":1.2,"tickWidth":1}}
}
}
],
"resolve":{"axis":{"x":"independent","y":"independent"}}
}
